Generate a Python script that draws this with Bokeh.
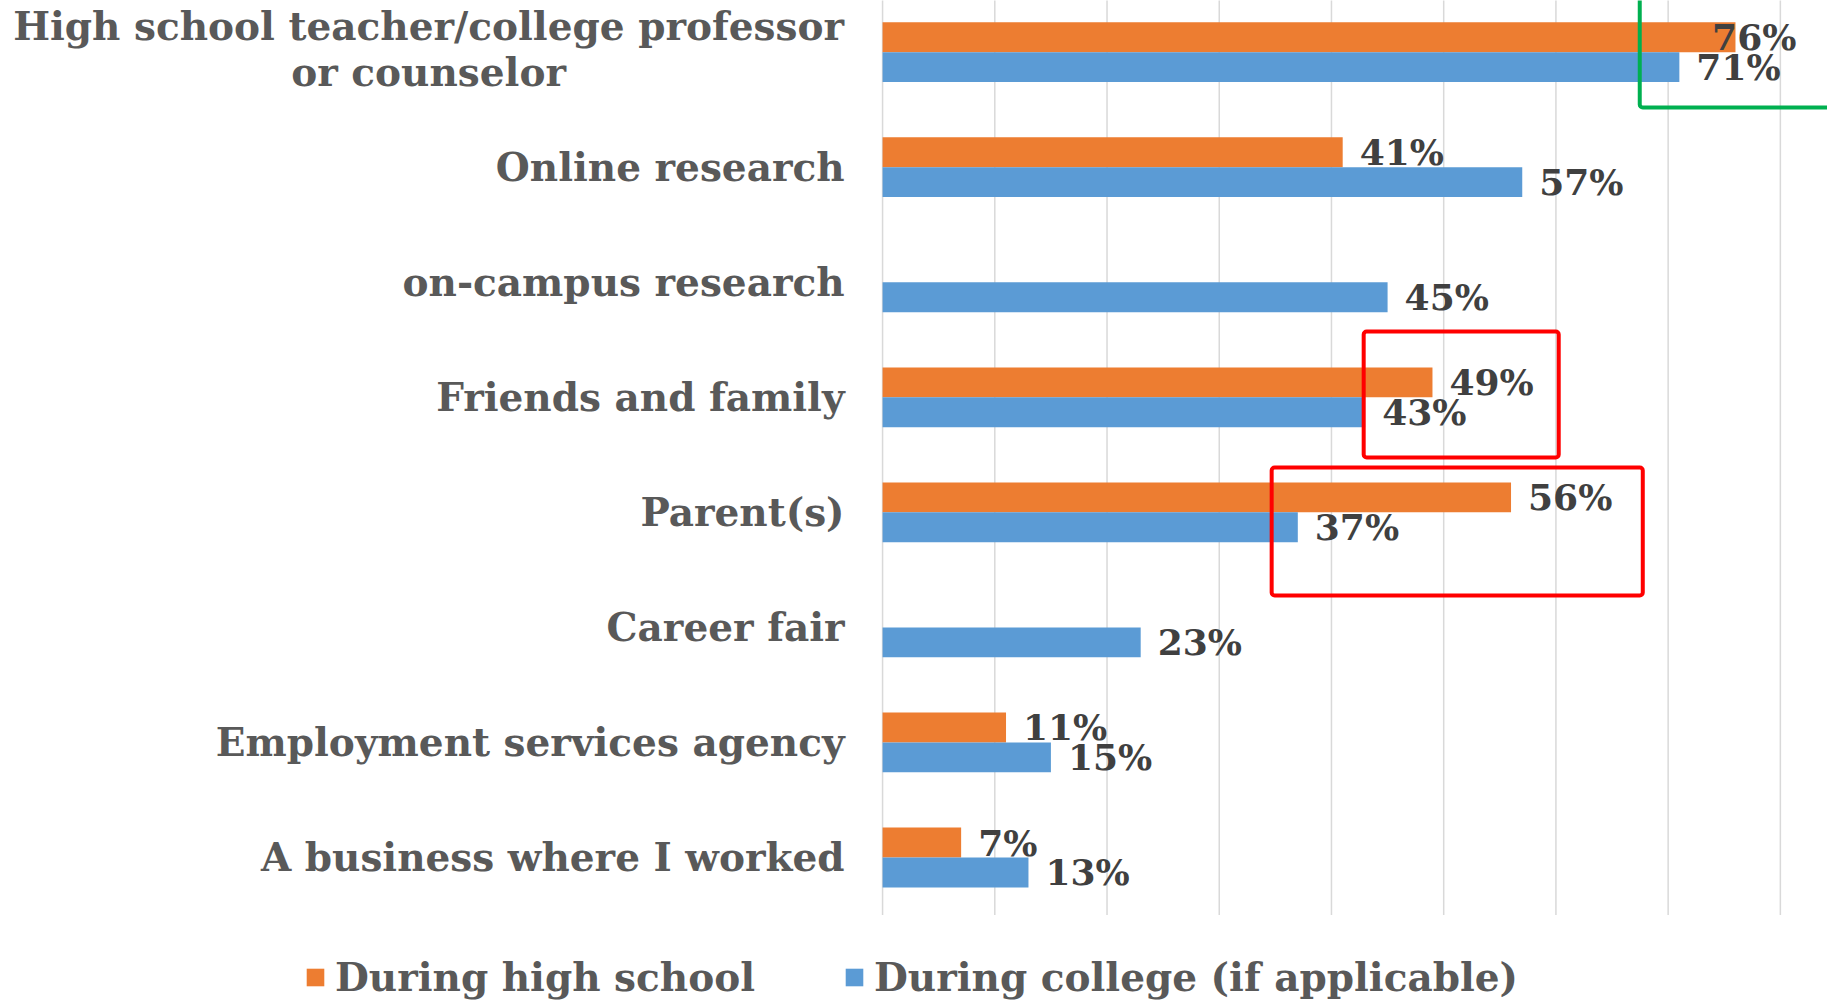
from bokeh.plotting import figure
from bokeh.models import Range1d, ColumnDataSource, Legend, LegendItem, BoxAnnotation
from bokeh.core.properties import value
from bokeh.embed import file_html
from bokeh.resources import INLINE

# ---------------- data ----------------
categories = [
    "High school teacher/college professor\nor counselor",
    "Online research",
    "on-campus research",
    "Friends and family",
    "Parent(s)",
    "Career fair",
    "Employment services agency",
    "A business where I worked",
]
high_school = [0.76, 0.41, None, 0.49, 0.56, None, 0.11, 0.07]
college = [0.71, 0.57, 0.45, 0.43, 0.37, 0.23, 0.15, 0.13]
series_names = ["During high school", "During college (if applicable)"]
x_ticks = [0.0, 0.1, 0.2, 0.3, 0.4, 0.5, 0.6, 0.7, 0.8]

# ---------------- style ----------------
FONT = "DejaVu Serif"
ORANGE = "#ED7D31"
BLUE = "#5B9BD5"
GRID = "#D9D9D9"
LABEL_GRAY = "#595959"
VALUE_GRAY = "#404040"
BAR_H = 0.26
LABEL_CAP = 0.724      # data labels pushed back inside the plot area
CAT_FONT = "39px"
CAT_STANDOFF = 38
WRAP_HALF_WIDTH = 416  # half width of the wrapped (two-line) category label

W, H = 1827, 1000
p = figure(width=W, height=H, output_backend="svg", toolbar_location=None,
           x_range=Range1d(-0.786, 0.842), y_range=Range1d(8.243, -0.449),
           x_axis_location=None, y_axis_location=None,
           min_border_left=0, min_border_right=0,
           min_border_top=0, min_border_bottom=0)
p.outline_line_color = None
p.grid.visible = False
p.background_fill_color = "white"

n = len(categories)

# vertical gridlines (one per 10 %)
p.segment(x0=x_ticks, x1=x_ticks, y0=[-0.5] * len(x_ticks), y1=[n - 0.5] * len(x_ticks),
          line_color=GRID, line_width=1.5)

# bars
hs_idx = [i for i, v in enumerate(high_school) if v is not None]
hs_src = ColumnDataSource(dict(
    y=[i - BAR_H / 2 for i in hs_idx],
    v=[high_school[i] for i in hs_idx],
    lx=[min(high_school[i], LABEL_CAP) for i in hs_idx],
    t=[f"{round(high_school[i] * 100)}%" for i in hs_idx],
))
co_src = ColumnDataSource(dict(
    y=[i + BAR_H / 2 for i in range(n)],
    v=college,
    lx=[min(v, LABEL_CAP) for v in college],
    t=[f"{round(v * 100)}%" for v in college],
))
r_hs = p.hbar(y="y", left=0, right="v", height=BAR_H, source=hs_src,
              fill_color=ORANGE, line_color=None)
r_co = p.hbar(y="y", left=0, right="v", height=BAR_H, source=co_src,
              fill_color=BLUE, line_color=None)

# data labels
for src in (hs_src, co_src):
    p.text(x="lx", y="y", text="t", source=src, x_offset=17,
           text_baseline="middle", text_align="left",
           text_font=value(FONT), text_font_style="bold",
           text_font_size="36px", text_color=VALUE_GRAY)

# category labels (left of the value axis)
single = [i for i, c in enumerate(categories) if "\n" not in c]
multi = [i for i, c in enumerate(categories) if "\n" in c]
p.text(x=[0] * len(single), y=single, text=[categories[i] for i in single],
       x_offset=-CAT_STANDOFF, text_align="right", text_baseline="middle",
       text_font=value(FONT), text_font_style="bold", text_font_size=CAT_FONT,
       text_color=LABEL_GRAY)
p.text(x=[0] * len(multi), y=multi, text=[categories[i] for i in multi],
       x_offset=-CAT_STANDOFF - WRAP_HALF_WIDTH, y_offset=-3, text_align="center",
       text_baseline="middle", text_line_height=1.0,
       text_font=value(FONT), text_font_style="bold", text_font_size=CAT_FONT,
       text_color=LABEL_GRAY)

# highlight boxes
p.add_layout(BoxAnnotation(left=0.4287, right=0.6025, top=2.428, bottom=3.523,
                           fill_alpha=0, line_color="#FF0000", line_alpha=1,
                           line_width=4, border_radius=3))
p.add_layout(BoxAnnotation(left=0.3467, right=0.6774, top=3.610, bottom=4.723,
                           fill_alpha=0, line_color="#FF0000", line_alpha=1,
                           line_width=4, border_radius=3))
p.add_layout(BoxAnnotation(left=0.6747, right=0.95, top=-1.0, bottom=0.481,
                           fill_alpha=0, line_color="#00B050", line_alpha=1,
                           line_width=4, border_radius=3))

# legend
legend = Legend(items=[LegendItem(label=series_names[0], renderers=[r_hs]),
                       LegendItem(label=series_names[1], renderers=[r_co])],
                orientation="horizontal", location=(304, 0),
                border_line_color=None, background_fill_alpha=0,
                padding=0, margin=0, spacing=88, glyph_width=22, glyph_height=22,
                label_standoff=9, label_text_font=FONT,
                label_text_font_style="bold", label_text_font_size="39px",
                label_text_color=LABEL_GRAY)
p.add_layout(legend)

open("out.html", "w").write(file_html(p, INLINE))
